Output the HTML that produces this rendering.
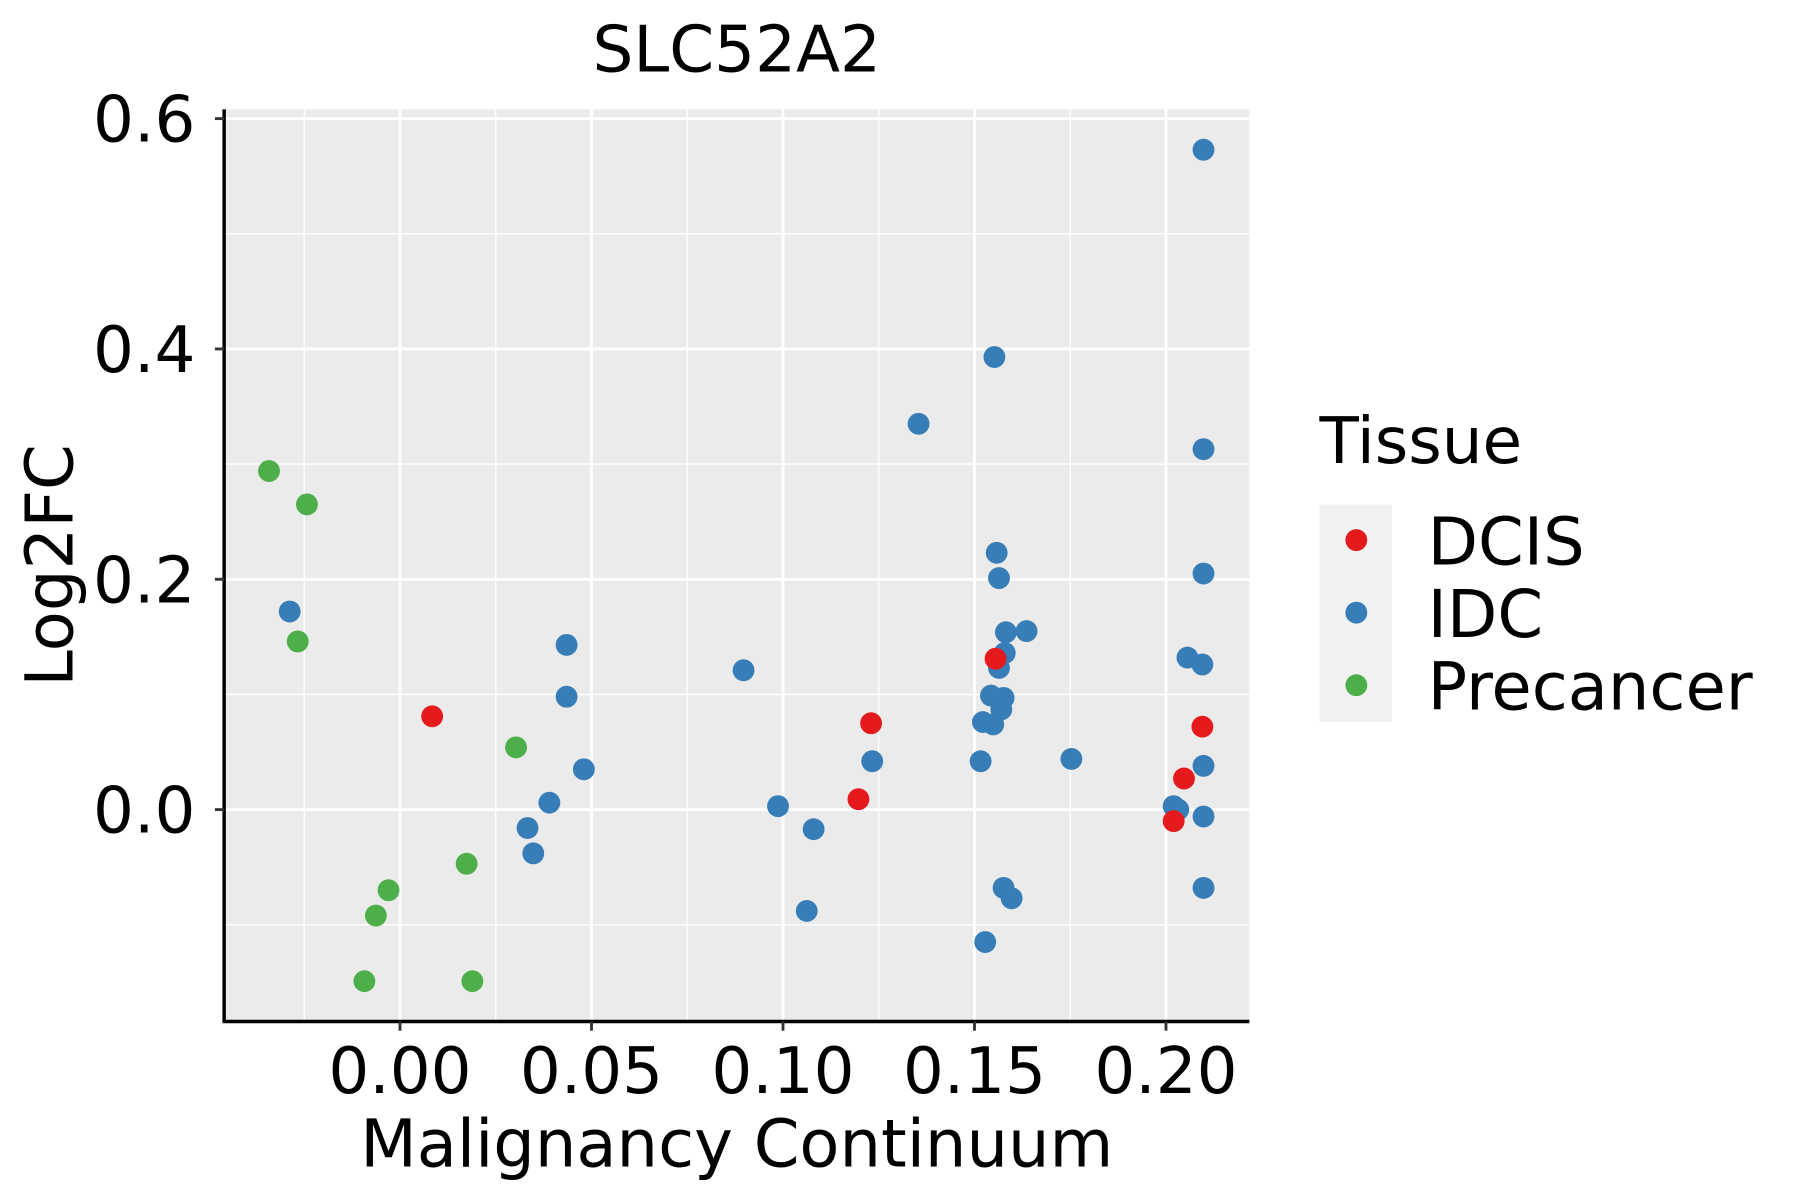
<!DOCTYPE html>
<html><head><meta charset="utf-8"><style>html,body{margin:0;padding:0;background:#fff}svg{display:block}text{font-family:"DejaVu Sans","Liberation Sans",sans-serif}</style></head>
<body>
<svg id="chart" width="1800" height="1200" viewBox="0 0 1566 1042" preserveAspectRatio="none" xmlns="http://www.w3.org/2000/svg">
<rect x="0" y="0" width="1566" height="1042" fill="#fff"/>
<rect x="195" y="95" width="892" height="792" fill="#ebebeb"/>
<g id="grid"></g>
<g id="points"></g>
<line x1="195" y1="95" x2="195" y2="888" stroke="#000" stroke-width="3"/>
<line x1="194" y1="887" x2="1087" y2="887" stroke="#000" stroke-width="3"/>
<g id="ticks"></g>
<text x="641" y="62" font-size="56" text-anchor="middle">SLC52A2</text>
<text x="641" y="1013" font-size="57" text-anchor="middle">Malignancy Continuum</text>
<text transform="translate(63,491) rotate(-90)" font-size="57" text-anchor="middle">Log2FC</text>
<g>
<text x="1148" y="402" font-size="56">Tissue</text>
<rect x="1148" y="438" width="63" height="189" fill="#f2f2f2"/>
<circle cx="1180" cy="469" r="9.5" fill="#e41a1c"/>
<circle cx="1180" cy="532" r="9.5" fill="#377eb8"/>
<circle cx="1180" cy="595" r="9.5" fill="#4daf4a"/>
<text x="1242" y="490" font-size="57">DCIS</text>
<text x="1242" y="553" font-size="57">IDC</text>
<text x="1242" y="616" font-size="57">Precancer</text>
</g>
</svg>
<script>
const xTicks = [0, 0.05, 0.10, 0.15, 0.20];
const xTickLabels = ["0.00","0.05","0.10","0.15","0.20"];
const yTicks = [0, 0.2, 0.4, 0.6];
const yTickLabels = ["0.0","0.2","0.4","0.6"];
const precancerX = [-0.0342,-0.0243,-0.0267,0.0303,0.0174,-0.003,-0.0063,-0.0093,0.0189];
const precancerY = [0.294,0.265,0.146,0.054,-0.047,-0.070,-0.092,-0.149,-0.149];
const dcisX = [0.0084,0.1230,0.1197,0.1555,0.2095,0.2047,0.2020];
const dcisY = [0.081,0.075,0.009,0.131,0.072,0.027,-0.010];
const idcX = [-0.0288,0.0435,0.0435,0.0480,0.0390,0.0333,0.0348,0.0897,0.0987,0.1080,0.1062,0.1233,0.1354,0.1552,0.1558,0.1564,0.1582,0.1636,0.1579,0.1564,0.1543,0.1576,0.1570,0.1522,0.1549,0.1516,0.1753,0.1576,0.1597,0.1528,0.2098,0.2098,0.2098,0.2056,0.2095,0.2098,0.2098,0.2098,0.2020,0.2032];
const idcY = [0.172,0.143,0.098,0.035,0.006,-0.016,-0.038,0.121,0.003,-0.017,-0.088,0.042,0.335,0.393,0.223,0.201,0.154,0.155,0.136,0.123,0.099,0.097,0.087,0.076,0.074,0.042,0.044,-0.068,-0.077,-0.115,0.573,0.313,0.205,0.132,0.126,0.038,-0.006,-0.068,0.003,0.000];

const NS = "http://www.w3.org/2000/svg";
function xs(v){ return 348 + v*3332; }
function ys(v){ return 703 - v*1000; }
const grid = document.getElementById('grid');
const ticks = document.getElementById('ticks');
function line(parent,x1,y1,x2,y2,w,c){
  const l=document.createElementNS(NS,'line');
  l.setAttribute('x1',x1);l.setAttribute('y1',y1);l.setAttribute('x2',x2);l.setAttribute('y2',y2);
  l.setAttribute('stroke',c);l.setAttribute('stroke-width',w);
  parent.appendChild(l);return l;
}
for(let i=-1;i<xTicks.length;i++){
  const v=(i<0?xTicks[0]:xTicks[i])+(i<0?-0.025:0.025);
  const px=xs(v); if(px>195&&px<1087){const g=line(grid,px,95,px,887,1.2,'#fff');
  
  }
}
for(let i=-1;i<yTicks.length;i++){
  const v=(i<0?yTicks[0]:yTicks[i])+(i<0?-0.1:0.1);
  const py=ys(v); if(py>95&&py<887){const g=line(grid,195,py,1087,py,1.2,'#fff');
  
  }
}
xTicks.forEach((v,i)=>{
  const g=line(grid,xs(v),95,xs(v),887,2.5,'#fff');
  
  
  const t=line(ticks,xs(v),887,xs(v),895,2.5,'#333');
  
  
  const tx=document.createElementNS(NS,'text');
  tx.setAttribute('x',xs(v));tx.setAttribute('y',949);tx.setAttribute('font-size','56');tx.setAttribute('text-anchor','middle');
  tx.textContent=xTickLabels[i];
  
  
  ticks.appendChild(tx);
});
yTicks.forEach((v,i)=>{
  const g=line(grid,195,ys(v),1087,ys(v),2.5,'#fff');
  
  
  const t=line(ticks,187,ys(v),195,ys(v),2.5,'#333');
  
  
  const tx=document.createElementNS(NS,'text');
  tx.setAttribute('x',170);tx.setAttribute('y',ys(v)+20);tx.setAttribute('font-size','56');tx.setAttribute('text-anchor','end');
  tx.textContent=yTickLabels[i];
  
  
  ticks.appendChild(tx);
});
const pts=document.getElementById('points');
function drawSeries(X,Y,color,name){
  X.forEach((x,i)=>{
    const c=document.createElementNS(NS,'circle');
    c.setAttribute('cx',xs(x));c.setAttribute('cy',ys(Y[i]));c.setAttribute('r',9.5);c.setAttribute('fill',color);
    
    
    pts.appendChild(c);
  });
}
drawSeries(precancerX,precancerY,'#4daf4a','point-precancer');
drawSeries(idcX,idcY,'#377eb8','point-idc');
drawSeries(dcisX,dcisY,'#e41a1c','point-dcis');
</script>
</body></html>
